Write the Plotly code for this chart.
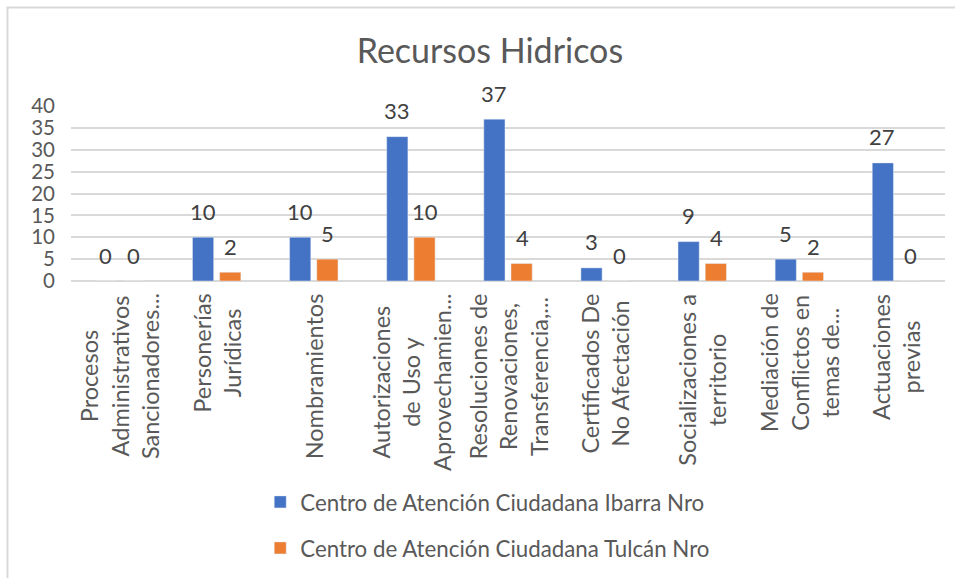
import plotly.graph_objects as go

# categorias (tal como aparecen en el eje, recortadas)
categorias = [
    "Procesos<br>Administrativos<br>Sancionadores...",
    "Personerías<br>Jurídicas",
    "Nombramientos",
    "Autorizaciones<br>de Uso y<br>Aprovechamien...",
    "Resoluciones de<br>Renovaciones,<br>Transferencia,...",
    "Certificados De<br>No Afectación",
    "Socializaciones a<br>territorio",
    "Mediación de<br>Conflictos en<br>temas de...",
    "Actuaciones<br>previas",
]

ibarra = [0, 10, 10, 33, 37, 3, 9, 5, 27]
tulcan = [0, 2, 5, 10, 4, 0, 4, 2, 0]

serie_ibarra = "Centro de Atención Ciudadana Ibarra Nro"
serie_tulcan = "Centro de Atención Ciudadana Tulcán Nro"

y_ticks = [0, 5, 10, 15, 20, 25, 30, 35, 40]

FONT = "Lato"
GRIS = "#595959"

fig = go.Figure()

fig.add_trace(go.Bar(x=categorias, y=ibarra, name=serie_ibarra, legendgroup="a",
                     marker=dict(color="#4472C4")))
fig.add_trace(go.Bar(x=categorias, y=tulcan, name=serie_tulcan, legendgroup="b",
                     marker=dict(color="#ED7D31")))

# etiquetas de datos encima de cada barra (desplazadas a su columna del grupo)
for serie, dx in ((ibarra, -14), (tulcan, 14)):
    for c, v in zip(categorias, serie):
        fig.add_annotation(x=c, y=v, xref="x", yref="y", text=str(v),
                           showarrow=False, xshift=dx, yshift=26,
                           xanchor="center", yanchor="middle",
                           font=dict(family=FONT, size=22, color="#404040"))

# etiquetas del eje x, rotadas y centradas
for c in categorias:
    fig.add_annotation(
        x=c, y=-0.06, xref="x", yref="paper",
        text=c, textangle=-90, showarrow=False,
        xanchor="center", yanchor="top", align="center",
        font=dict(family=FONT, size=23.5, color=GRIS),
    )

# marco gris del grafico
fig.add_shape(
    type="rect", xref="paper", yref="paper",
    x0=-0.0727, x1=1.3, y0=-2.0, y1=1.563,
    line=dict(color="#D9D9D9", width=2), layer="below",
)

fig.update_layout(
    width=955, height=578,
    margin=dict(l=71, r=10, t=106, b=297, autoexpand=False),
    paper_bgcolor="white", plot_bgcolor="white",
    title=dict(text="Recursos Hidricos", x=0.513, xanchor="center",
               y=0.911, yanchor="middle",
               font=dict(family=FONT, size=34, color=GRIS)),
    barmode="group", bargap=0.44, bargroupgap=0.22,
    showlegend=True,
    legend=dict(
        orientation="v", x=0.2165, xanchor="left",
        yref="container", y=0.168, yanchor="top",
        font=dict(family=FONT, size=22.3, color=GRIS),
        tracegroupgap=14, bgcolor="rgba(0,0,0,0)",
    ),
    font=dict(family=FONT, color=GRIS),
)

fig.update_xaxes(showticklabels=False, showgrid=False, showline=False,
                 ticks="", zeroline=False)
fig.update_yaxes(range=[0, 40], tickvals=y_ticks, showgrid=True,
                 gridcolor="#D9D9D9", gridwidth=1.5, zeroline=True,
                 zerolinecolor="#D9D9D9", zerolinewidth=1.5,
                 showline=False, ticks="", ticklabelstandoff=15,
                 tickfont=dict(family=FONT, size=20.5, color=GRIS))

# la pagina por defecto deja 8px de margen en el body
fig.write_html("out.html", config={"displayModeBar": False},
               post_script="document.body.style.margin='0';")
